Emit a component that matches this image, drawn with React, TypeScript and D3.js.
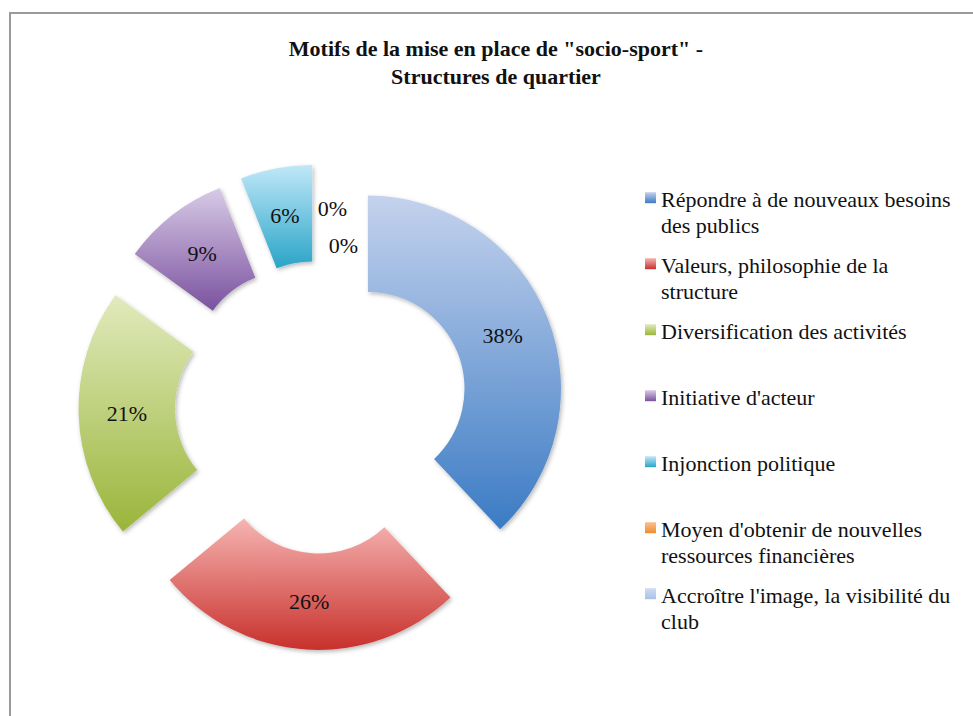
import React from 'react';
import * as d3 from 'd3';

const title = ['Motifs de la mise en place de "socio-sport" -', 'Structures de quartier'];
const categories = [
  'Répondre à de nouveaux besoins des publics',
  'Valeurs, philosophie de la structure',
  'Diversification des activités',
  "Initiative d'acteur",
  'Injonction politique',
  "Moyen d'obtenir de nouvelles ressources financières",
  "Accroître l'image, la visibilité du club",
];
const values = [38, 26, 21, 9, 6, 0, 0];
const lightColors = ['#c4d2ed', '#f6b5b3', '#e1eabd', '#d8cbe6', '#c0e8f8', '#fbc28f', '#cfdcf1'];
const darkColors = ['#3b7bc4', '#c8302b', '#9ab53a', '#7a519f', '#2aa4c8', '#f08a2c', '#a9c1e7'];

const FONT = 'Liberation Serif, DejaVu Serif, serif';

function wrap(text: string, maxWidth: number, font: string): string[] {
  const canvas = document.createElement('canvas');
  const ctx = canvas.getContext('2d')!;
  ctx.font = font;
  const words = text.split(' ');
  const lines: string[] = [];
  let cur = '';
  for (const w of words) {
    const test = cur ? cur + ' ' + w : w;
    if (ctx.measureText(test).width > maxWidth && cur) {
      lines.push(cur);
      cur = w;
    } else cur = test;
  }
  if (cur) lines.push(cur);
  return lines;
}

export default function App() {
  const W = 973, H = 716;
  const cx = 321.5, cy = 407;
  const R = 193, r = 96.5, explode = 50;
  const pie = d3.pie<number>().sort(null).startAngle(0).endAngle(2 * Math.PI);
  const arcs = pie(values);
  const arcGen = d3.arc<d3.PieArcDatum<number>>().innerRadius(r).outerRadius(R);
  const midR = (r + R) / 2;
  const zeroNudge = [[11, -4], [22, 33]];
  let zi = 0;

  const legendX = 645, legendTextX = 661, legendY0 = 206.7, legendStep = 66, lineH = 26;

  return (
    <svg width={W} height={H} style={{ position: 'absolute', left: 0, top: 0, background: '#fff', fontFamily: FONT }}>
      <defs>
        {values.map((_, i) => (
          <linearGradient key={i} id={`g${i}`} x1="0" y1="0" x2="0" y2="1">
            <stop offset="0" stopColor={lightColors[i]} />
            <stop offset="1" stopColor={darkColors[i]} />
          </linearGradient>
        ))}
        <filter id="shadow" x="-20%" y="-20%" width="140%" height="140%">
          <feDropShadow dx="1.5" dy="2" stdDeviation="2" floodColor="#000" floodOpacity="0.28" />
        </filter>
      </defs>
      <rect x={0} y={0} width={W} height={H} fill="#fff" />
      <path d={`M10,${H + 5} L10,13 L${W + 5},13`} fill="none" stroke="#9a9a9a" strokeWidth={2} />
      <g fontWeight="bold" fontSize={22} textAnchor="middle" fill="#111" style={{ fontFamily: FONT }}>
        {title.map((t, i) => (
          <text key={i} x={496} y={56 + i * 28}>{t}</text>
        ))}
      </g>
      <g>
        {arcs.map((a, i) => {
          const mid = (a.startAngle + a.endAngle) / 2;
          const tx = cx + explode * Math.sin(mid);
          const ty = cy - explode * Math.cos(mid);
          if (a.endAngle - a.startAngle <= 0) return null;
          return (
            <path key={i} d={arcGen(a) || ''} transform={`translate(${tx},${ty})`}
              fill={`url(#g${i})`} filter="url(#shadow)" />
          );
        })}
      </g>
      <g fontSize={22} textAnchor="middle" fill="#111" style={{ fontFamily: FONT }}>
        {arcs.map((a, i) => {
          const mid = (a.startAngle + a.endAngle) / 2;
          let lx = cx + (explode + midR) * Math.sin(mid);
          let ly = cy - (explode + midR) * Math.cos(mid);
          if (a.value === 0) {
            const n = zeroNudge[zi++] || [0, 0];
            lx += n[0];
            ly += n[1];
          }
          return (
            <text key={i} x={lx} y={ly} dy="0.35em">{`${d3.format('d')(a.value)}%`}</text>
          );
        })}
      </g>
      <g fontSize={22} fill="#111" style={{ fontFamily: FONT }}>
        {categories.map((c, i) => {
          const lines = wrap(c, 305, `22px ${FONT}`);
          const by = legendY0 + i * legendStep;
          return (
            <g key={i}>
              <rect x={legendX} y={by - 14.5} width={11} height={11} fill={`url(#g${i})`} />
              {lines.map((l, j) => (
                <text key={j} x={legendTextX} y={by + j * lineH}>{l}</text>
              ))}
            </g>
          );
        })}
      </g>
    </svg>
  );
}
